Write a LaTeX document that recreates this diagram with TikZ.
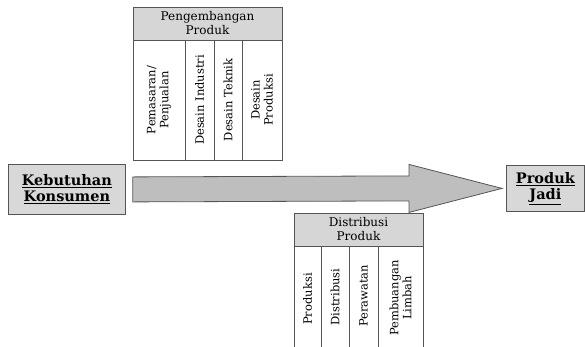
\documentclass[tikz,border=0pt]{standalone}
\usepackage{fontspec}
\setmainfont{DejaVu Serif}
\usetikzlibrary{calc,positioning}
\definecolor{hdrgray}{RGB}{214,214,214}
\definecolor{arrgray}{RGB}{190,190,190}
\definecolor{boxgray}{RGB}{216,216,216}
\definecolor{edge}{RGB}{85,85,85}
\begin{document}
\begin{tikzpicture}[x=1pt,y=-1pt,
  cell/.style={draw=edge,line width=0.8pt,inner sep=0pt,outer sep=0pt,anchor=north west},
  hdr/.style={cell,fill=hdrgray,font=\fontsize{12}{14}\selectfont,align=center},
  col/.style={cell,fill=white},
  vtext/.style={rotate=90,font=\fontsize{11.5}{13}\selectfont,align=center,inner sep=0pt},
  endbox/.style={draw=edge,line width=0.8pt,fill=boxgray,font=\fontsize{14.5}{18}\selectfont\bfseries,align=center,inner sep=0pt,anchor=north west}]
\useasboundingbox (0,0) rectangle (585,346);
\clip (0,0) rectangle (585,346);
% end boxes
\node[endbox,minimum width=117pt,minimum height=50pt] (keb) at (8,164) {\underline{Kebutuhan}\\[-2pt]\underline{Konsumen}};
\node[endbox,minimum width=78pt,minimum height=46pt] (prod) at (506,165) {\underline{Produk}\\[-2pt]\underline{Jadi}};
% top table
\node[hdr,minimum width=149pt,minimum height=33pt] (pgh) at (133,7) {Pengembangan\\Produk};
\node[col,minimum width=52pt,minimum height=120pt] (t1) at (133,40) {};
\node[col,minimum width=29pt,minimum height=120pt] (t2) at (185,40) {};
\node[col,minimum width=28pt,minimum height=120pt] (t3) at (214,40) {};
\node[col,minimum width=40pt,minimum height=120pt] (t4) at (242,40) {};
\node[vtext] (t1l) at (t1.center) {Pemasaran/\\Penjualan};
\node[vtext] (t2l) at (t2.center) {Desain Industri};
\node[vtext] (t3l) at (t3.center) {Desain Teknik};
\node[vtext] (t4l) at (t4.center) {Desain\\Produksi};
% arrow
\coordinate (as) at ($(keb.east)+(7,0)$);
\coordinate (at) at ($(prod.west)+(-4,0)$);
\draw[draw=edge,line width=0.8pt,fill=arrgray]
  ($(as)+(0,-12.5)$) -- ($(at)+(-93,-12.5)$) -- ($(at)+(-93,-24)$) -- (at)
  -- ($(at)+(-93,24)$) -- ($(at)+(-93,12.5)$) -- ($(as)+(0,12.5)$) -- cycle;
% bottom table
\node[hdr,minimum width=129pt,minimum height=33pt] (dph) at (294,213) {Distribusi\\Produk};
\node[col,minimum width=27pt,minimum height=106pt] (b1) at (294,246) {};
\node[col,minimum width=28pt,minimum height=106pt] (b2) at (321,246) {};
\node[col,minimum width=29pt,minimum height=106pt] (b3) at (349,246) {};
\node[col,minimum width=45pt,minimum height=106pt] (b4) at (378,246) {};
\node[vtext] (b1l) at ($(b1.north)+(0,53)$) {Produksi};
\node[vtext] (b2l) at ($(b2.north)+(0,51)$) {Distribusi};
\node[vtext] (b3l) at ($(b3.north)+(0,50)$) {Perawatan};
\node[vtext] (b4l) at ($(b4.north)+(0,52)$) {Pembuangan\\Limbah};
\end{tikzpicture}
\end{document}
